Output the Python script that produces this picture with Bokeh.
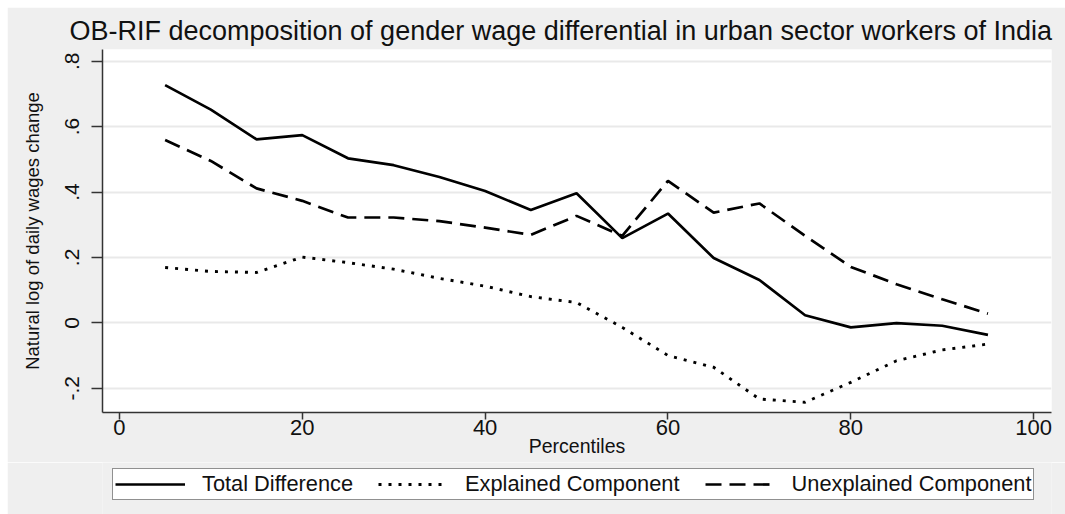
from bokeh.plotting import figure
from bokeh.models import Range1d, FixedTicker, Legend, LegendItem
from bokeh.layouts import column
from bokeh.embed import file_html
from bokeh.resources import INLINE

percentiles = [5, 10, 15, 20, 25, 30, 35, 40, 45, 50, 55, 60, 65, 70, 75, 80, 85, 90, 95]
total = [0.727, 0.652, 0.561, 0.574, 0.503, 0.482, 0.446, 0.403, 0.345, 0.396,
         0.259, 0.334, 0.198, 0.131, 0.023, -0.014, -0.001, -0.009, -0.037]
explained = [0.169, 0.157, 0.154, 0.201, 0.184, 0.164, 0.136, 0.112, 0.080, 0.062,
             -0.014, -0.100, -0.136, -0.233, -0.243, -0.182, -0.116, -0.083, -0.065]
unexplained = [0.559, 0.495, 0.411, 0.373, 0.322, 0.322, 0.311, 0.291, 0.269, 0.327,
               0.266, 0.434, 0.337, 0.365, 0.266, 0.171, 0.118, 0.072, 0.028]

x_ticks = [0, 20, 40, 60, 80, 100]
y_ticks = [-0.2, 0.0, 0.2, 0.4, 0.6, 0.8]
y_tick_labels = ["-.2", "0", ".2", ".4", ".6", ".8"]
series_names = ["Total Difference", "Explained Component", "Unexplained Component"]

title_text = "OB-RIF decomposition of gender wage differential in urban sector workers of India"
FONT = "Liberation Sans"
BG = "#efefef"

styles = [dict(line_width=2.7), dict(line_width=2.9, line_dash="3 7"), dict(line_width=2.7, line_dash="16 8")]
series = [total, explained, unexplained]

p = figure(width=1058, height=455, output_backend="svg", toolbar_location=None,
           x_range=Range1d(-1.85, 101.95), y_range=Range1d(-0.2743, 0.8358),
           min_border_left=95, min_border_right=14, min_border_top=42, min_border_bottom=50)
p.margin = (7, 0, 0, 7)
p.border_fill_color = BG
p.background_fill_color = "white"
p.outline_line_color = None

# title
p.title.text = title_text
p.title.text_font = FONT
p.title.text_font_size = "27px"
p.title.text_font_style = "normal"
p.title.text_color = "#111111"
p.title.align = "left"
p.title.offset = -33
p.title.standoff = 7

# axes
p.xaxis.ticker = FixedTicker(ticks=x_ticks)
p.yaxis.ticker = FixedTicker(ticks=y_ticks)
p.yaxis.major_label_overrides = {t: l for t, l in zip(y_ticks, y_tick_labels)}
p.yaxis.major_label_orientation = "vertical"
for ax in (p.xaxis[0], p.yaxis[0]):
    ax.axis_line_color = "#333333"
    ax.axis_line_width = 1.5
    ax.major_tick_line_color = "#333333"
    ax.major_tick_line_width = 1.5
    ax.major_tick_in = 0
    ax.minor_tick_line_color = None
    ax.major_label_text_font = FONT
    ax.major_label_text_color = "#111111"
    ax.axis_label_text_font = FONT
    ax.axis_label_text_font_style = "normal"
    ax.axis_label_text_color = "#111111"
p.xaxis.major_tick_out = 7
p.yaxis.major_tick_out = 11
p.xaxis.major_label_text_font_size = "22px"
p.yaxis.major_label_text_font_size = "21px"
p.xaxis.major_label_standoff = 0
p.yaxis.major_label_standoff = 12
p.xaxis.axis_label = "Percentiles"
p.xaxis.axis_label_text_font_size = "19.5px"
p.xaxis.axis_label_standoff = -3
p.yaxis.axis_label = "Natural log of daily wages change"
p.yaxis.axis_label_text_font_size = "18.5px"
p.yaxis.axis_label_standoff = 20

p.xgrid.grid_line_color = None
p.ygrid.grid_line_color = "#e9e9e9"
p.ygrid.grid_line_width = 2

for ys, st in zip(series, styles):
    p.line(percentiles, ys, line_color="black", **st)

# legend strip below the chart
q = figure(width=1058, height=52, output_backend="svg", toolbar_location=None,
           x_axis_type=None, y_axis_type=None, x_range=p.x_range, y_range=p.y_range,
           min_border=0)
q.margin = (0, 0, 0, 7)
q.border_fill_color = BG
q.background_fill_color = BG
q.outline_line_color = None
items = []
for name, ys, st in zip(series_names, series, styles):
    r = q.line(percentiles, ys, line_color="black", visible=False, **st)
    items.append(LegendItem(label=name, renderers=[r]))

legend = Legend(items=items, orientation="horizontal", location=(10, 14),
                glyph_width=70, glyph_height=16, label_standoff=17, spacing=25,
                padding=2, margin=0, label_height=16,
                label_text_font=FONT, label_text_font_size="21.8px", label_text_color="#111111",
                border_line_color="#222222", border_line_width=1.2,
                background_fill_color="white", background_fill_alpha=1.0)
q.add_layout(legend, "center")

root = column(p, q, spacing=0)
open("out.html", "w").write(file_html(root, INLINE))
